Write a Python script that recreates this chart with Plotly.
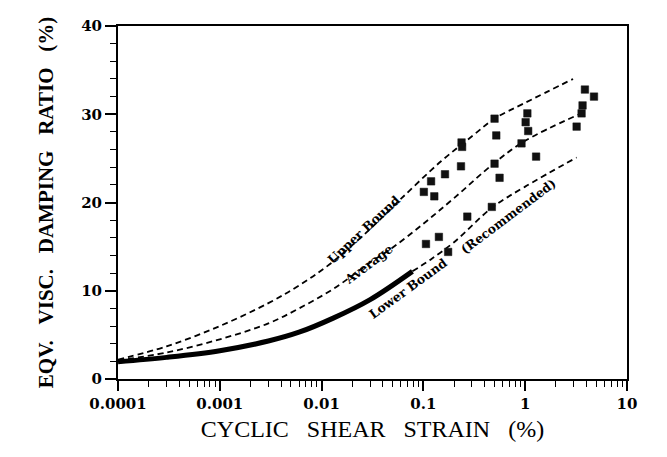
import math
import plotly.graph_objects as go

# ---- data ----
upper_x = [1e-4, 3e-4, 1e-3, 3e-3, 6e-3, 1.2e-2, 3e-2, 0.06, 0.15, 0.3, 0.5, 1.0, 2.95]
upper_y = [2.2, 3.7, 6.0, 8.6, 10.6, 13.0, 17.0, 20.4, 24.7, 27.5, 29.5, 31.3, 34.0]

avg_x = [1e-4, 3e-4, 1e-3, 3e-3, 6e-3, 1.3e-2, 3e-2, 0.05, 0.1, 0.2, 0.5, 1.0, 3.4]
avg_y = [2.1, 3.0, 4.5, 6.3, 8.0, 10.2, 13.2, 14.9, 17.6, 20.5, 24.5, 27.0, 30.0]

lower_solid_x = [1e-4, 3e-4, 1e-3, 3e-3, 6e-3, 1.3e-2, 3e-2, 0.078]
lower_solid_y = [1.95, 2.45, 3.2, 4.3, 5.3, 6.9, 9.0, 12.2]

lower_dash_x = [0.078, 0.12, 0.2, 0.47, 1.0, 3.2]
lower_dash_y = [12.2, 13.6, 15.5, 19.4, 21.8, 25.1]

pts_x = [3.86, 4.74, 3.66, 3.58, 3.2, 1.05, 1.01, 1.07, 0.92, 1.28,
         0.50, 0.52, 0.50, 0.56, 0.47, 0.27, 0.237, 0.24, 0.234, 0.163,
         0.119, 0.101, 0.128, 0.142, 0.106, 0.175]
pts_y = [32.8, 32.0, 31.0, 30.1, 28.6, 30.1, 29.1, 28.1, 26.7, 25.2,
         29.5, 27.6, 24.4, 22.8, 19.5, 18.4, 26.8, 26.3, 24.1, 23.2,
         22.4, 21.2, 20.7, 16.1, 15.3, 14.4]

x_tickvals = [1e-4, 1e-3, 1e-2, 1e-1, 1, 10]
x_ticktext = ["0.0001", "0.001", "0.01", "0.1", "1", "10"]
y_tickvals = [0, 10, 20, 30, 40]

labels = ["Upper Bound", "Average", "Lower Bound", "(Recommended)"]
label_x = [0.026, 0.0286, 0.0706, 0.678]
label_y = [16.95, 13.0, 10.2, 18.4]
label_angle = [-43, -37, -36, -37]

# ---- figure ----
fig = go.Figure()
dash = "6px,4px"
for xs, ys in [(upper_x, upper_y), (avg_x, avg_y), (lower_dash_x, lower_dash_y)]:
    fig.add_trace(go.Scatter(x=xs, y=ys, mode="lines", line_shape="spline",
                             line=dict(color="black", width=1.8, dash=dash)))
fig.add_trace(go.Scatter(x=lower_solid_x, y=lower_solid_y, mode="lines", line_shape="spline",
                         line=dict(color="black", width=5)))
fig.add_trace(go.Scatter(x=pts_x, y=pts_y, mode="markers",
                         marker=dict(symbol="square", size=7.5, color="#111",
                                     line=dict(color="#111", width=0.5))))

for t, lx, ly, a in zip(labels, label_x, label_y, label_angle):
    fig.add_annotation(x=math.log10(lx), y=ly, xref="x", yref="y", text=t,
                       showarrow=False, textangle=a,
                       font=dict(family="DejaVu Serif", size=12.5, color="black",
                                 weight="bold"))

sp = "&nbsp;&nbsp;&nbsp;"
fig.update_layout(
    width=667, height=457,
    margin=dict(l=118, r=40, t=26, b=78),
    paper_bgcolor="white", plot_bgcolor="white",
    showlegend=False,
    xaxis=dict(
        type="log", range=[-4, 1],
        tickvals=x_tickvals, ticktext=x_ticktext,
        ticks="outside", ticklen=10, tickwidth=1.5, tickcolor="black",
        minor=dict(ticks="outside", ticklen=6, tickwidth=1.2, tickcolor="black",
                   dtick="D1", showgrid=False),
        showline=True, linewidth=2, linecolor="black", mirror=True,
        showgrid=False, zeroline=False,
        tickfont=dict(family="DejaVu Serif", size=15, color="black", weight="bold"),
        title=dict(text=sp.join(["CYCLIC", "SHEAR", "STRAIN", "(%)"]),
                   font=dict(family="Liberation Serif", size=24, color="black"),
                   standoff=8),
    ),
    yaxis=dict(
        range=[0, 40],
        tickvals=y_tickvals,
        ticks="outside", ticklen=11, tickwidth=1.5, tickcolor="black",
        minor=dict(ticks="outside", ticklen=6, tickwidth=1.2, tickcolor="black",
                   dtick=2, showgrid=False),
        showline=True, linewidth=2, linecolor="black", mirror=True,
        showgrid=False, zeroline=False,
        tickfont=dict(family="DejaVu Serif", size=15, color="black", weight="bold"),
        title=dict(text=sp.join(["EQV.", "VISC.", "DAMPING", "RATIO", "(%)"]),
                   font=dict(family="Liberation Serif", size=21, color="black",
                             weight="bold"),
                   standoff=22),
    ),
)

fig.write_html("out.html")
